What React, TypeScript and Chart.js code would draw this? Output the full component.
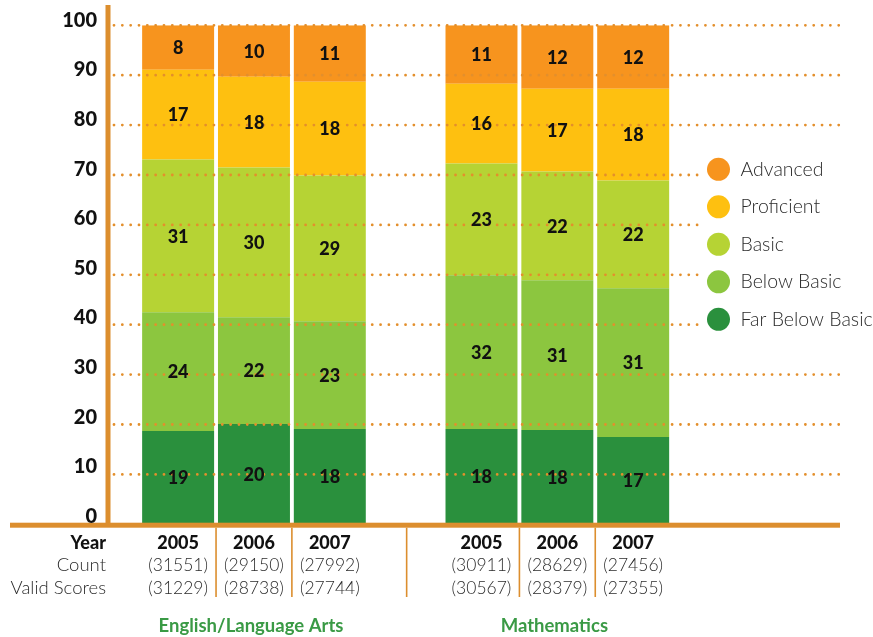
import React, { useEffect, useRef } from 'react';
import { Chart, registerables } from 'chart.js';

Chart.register(...registerables);

const W = 873;
const H = 637;

// Categories (one empty slot separates the two subjects)
const CATEGORIES = ['2005', '2006', '2007', '', '2005', '2006', '2007'];
const COUNTS = [31551, 29150, 27992, null, 30911, 28629, 27456];
const VALID_SCORES = [31229, 28738, 27744, null, 30567, 28379, 27355];
const GROUP_NAMES = ['English/Language Arts', 'Mathematics'];
const GROUP_CENTER_INDEX = [1, 5];
const Y_TICKS = [0, 10, 20, 30, 40, 50, 60, 70, 80, 90, 100];

// Segment heights as drawn (percent)
const FAR_BELOW_BASIC = [18.7, 20.1, 19.1, null, 19.1, 18.9, 17.5];
const BELOW_BASIC = [23.8, 21.4, 21.6, null, 30.8, 30.0, 29.8];
const BASIC = [30.6, 30.0, 29.2, null, 22.4, 21.8, 21.6];
const PROFICIENT = [18.0, 18.2, 18.8, null, 16.0, 16.6, 18.4];
const ADVANCED = [8.9, 10.3, 11.3, null, 11.7, 12.7, 12.7];

// Printed value labels
const FAR_BELOW_BASIC_LABELS = [19, 20, 18, null, 18, 18, 17];
const BELOW_BASIC_LABELS = [24, 22, 23, null, 32, 31, 31];
const BASIC_LABELS = [31, 30, 29, null, 23, 22, 22];
const PROFICIENT_LABELS = [17, 18, 18, null, 16, 17, 18];
const ADVANCED_LABELS = [8, 10, 11, null, 11, 12, 12];

const SERIES_NAMES = ['Far Below Basic', 'Below Basic', 'Basic', 'Proficient', 'Advanced'];
const SERIES_VALUES = [FAR_BELOW_BASIC, BELOW_BASIC, BASIC, PROFICIENT, ADVANCED];
const SERIES_LABELS = [FAR_BELOW_BASIC_LABELS, BELOW_BASIC_LABELS, BASIC_LABELS, PROFICIENT_LABELS, ADVANCED_LABELS];
const SERIES_COLORS = ['#2A903D', '#8CC63F', '#B6D334', '#FEC010', '#F7941E'];

const AXIS_COLOR = '#DC8E2E';
const GRID_COLOR = '#E38F2C';
const TEXT_DARK = '#111111';
const TEXT_GRAY = '#2B2B2B';
const GROUP_COLOR = '#3A9A45';
const FONT = 'Lato, "Open Sans", "DejaVu Sans", sans-serif';

const overlay = {
  id: 'overlay',
  afterDatasetsDraw(chart: any) {
    const ctx: CanvasRenderingContext2D = chart.ctx;
    const ys = chart.scales.y;
    const centers: number[] = CATEGORIES.map((_, i) => chart.scales.x.getPixelForValue(i));
    ctx.save();

    // dotted gridlines
    ctx.strokeStyle = GRID_COLOR;
    ctx.lineWidth = 2.8;
    ctx.lineCap = 'round';
    ctx.setLineDash([0, 8.33]);
    Y_TICKS.forEach((t) => {
      if (t === 0) return;
      const py = ys.getPixelForValue(t);
      ctx.beginPath();
      ctx.moveTo(114, py);
      ctx.lineTo(840, py);
      ctx.stroke();
    });
    ctx.setLineDash([]);
    ctx.lineCap = 'butt';

    // value labels
    ctx.fillStyle = TEXT_DARK;
    ctx.font = `900 18px ${FONT}`;
    ctx.textAlign = 'center';
    ctx.textBaseline = 'middle';
    SERIES_LABELS.forEach((labels, d) => {
      const meta = chart.getDatasetMeta(d);
      labels.forEach((lbl, i) => {
        if (lbl == null) return;
        const el = meta.data[i];
        if (!el) return;
        const p = el.getProps(['x', 'y', 'base'], true);
        ctx.fillText(String(lbl), p.x, (p.y + p.base) / 2 + 1);
      });
    });

    // axes
    const y0 = ys.getPixelForValue(0);
    ctx.fillStyle = AXIS_COLOR;
    ctx.fillRect(105.5, 5, 5, y0 - 5);
    ctx.fillRect(10, y0 - 1.6, 830, 5);

    // y tick labels
    ctx.fillStyle = TEXT_DARK;
    ctx.font = `900 20px ${FONT}`;
    ctx.textAlign = 'right';
    ctx.textBaseline = 'middle';
    Y_TICKS.forEach((t) => {
      const py = ys.getPixelForValue(t);
      ctx.fillText(String(t), 97, py - 5 - (100 - t) * 0.03);
    });

    // legend (white box over the gridlines)
    ctx.fillStyle = '#ffffff';
    ctx.fillRect(703, 148, 170, 192);
    const legendOrder = [4, 3, 2, 1, 0];
    legendOrder.forEach((d, k) => {
      const cy = 169.3 + k * 37.5;
      ctx.fillStyle = SERIES_COLORS[d];
      ctx.beginPath();
      ctx.arc(718.5, cy, 11.5, 0, Math.PI * 2);
      ctx.fill();
      ctx.fillStyle = TEXT_GRAY;
      ctx.font = `300 19.5px ${FONT}`;
      ctx.textAlign = 'left';
      ctx.textBaseline = 'middle';
      ctx.fillText(SERIES_NAMES[d], 740.5, cy);
    });

    // table separators
    ctx.strokeStyle = AXIS_COLOR;
    ctx.lineWidth = 1.6;
    const sepTop = y0 + 3.4;
    const sepBottom = 597;
    for (let i = 0; i < CATEGORIES.length - 1; i++) {
      const mid = (centers[i] + centers[i + 1]) / 2;
      const isGap = CATEGORIES[i] === '' || CATEGORIES[i + 1] === '';
      if (isGap) {
        if (CATEGORIES[i] === '') continue;
        const gx = centers[i + 1];
        ctx.beginPath();
        ctx.moveTo(gx + 1, sepTop);
        ctx.lineTo(gx + 1, sepBottom);
        ctx.stroke();
        continue;
      }
      ctx.beginPath();
      ctx.moveTo(mid, sepTop);
      ctx.lineTo(mid, sepBottom);
      ctx.stroke();
    }

    // table row headers
    ctx.textAlign = 'right';
    ctx.textBaseline = 'middle';
    ctx.fillStyle = TEXT_DARK;
    ctx.font = `900 18px ${FONT}`;
    ctx.fillText('Year', 106, 543);
    ctx.fillStyle = TEXT_GRAY;
    ctx.font = `300 18.5px ${FONT}`;
    ctx.fillText('Count', 106, 565);
    ctx.fillText('Valid Scores', 106, 588);

    // table values
    ctx.textAlign = 'center';
    CATEGORIES.forEach((c, i) => {
      if (c === '') return;
      const cx = centers[i];
      ctx.fillStyle = TEXT_DARK;
      ctx.font = `900 18px ${FONT}`;
      ctx.fillText(c, cx, 543);
      ctx.fillStyle = TEXT_GRAY;
      ctx.font = `300 17.5px ${FONT}`;
      if (COUNTS[i] != null) ctx.fillText(`(${COUNTS[i]})`, cx, 565);
      if (VALID_SCORES[i] != null) ctx.fillText(`(${VALID_SCORES[i]})`, cx, 588);
    });

    // group names
    ctx.fillStyle = GROUP_COLOR;
    ctx.font = `bold 18.5px ${FONT}`;
    GROUP_NAMES.forEach((g, k) => {
      ctx.fillText(g, centers[GROUP_CENTER_INDEX[k]] - 3, 626);
    });

    ctx.restore();
  },
};

export default function App() {
  const ref = useRef<HTMLCanvasElement>(null);
  useEffect(() => {
    const chart = new Chart(ref.current as HTMLCanvasElement, {
      type: 'bar',
      data: {
        labels: CATEGORIES,
        datasets: SERIES_NAMES.map((name, d) => ({
          label: name,
          data: SERIES_VALUES[d],
          backgroundColor: SERIES_COLORS[d],
          borderWidth: 0,
          barPercentage: 0.949,
          categoryPercentage: 1,
        })),
      },
      options: {
        responsive: false,
        animation: false,
        layout: { padding: { left: 140.2, right: 201.9, top: 25.3, bottom: 112.7 } },
        plugins: { legend: { display: false }, tooltip: { enabled: false } },
        scales: {
          x: { display: false, stacked: true, grid: { display: false } },
          y: { display: false, stacked: true, min: 0, max: 100, ticks: { stepSize: 10 } },
        },
      },
      plugins: [overlay],
    } as any);
    return () => chart.destroy();
  }, []);
  return (
    <div style={{ position: 'fixed', left: 0, top: 0, width: W, height: H, background: '#ffffff' }}>
      <canvas ref={ref} width={W} height={H} style={{ display: 'block', width: W, height: H }} />
    </div>
  );
}
